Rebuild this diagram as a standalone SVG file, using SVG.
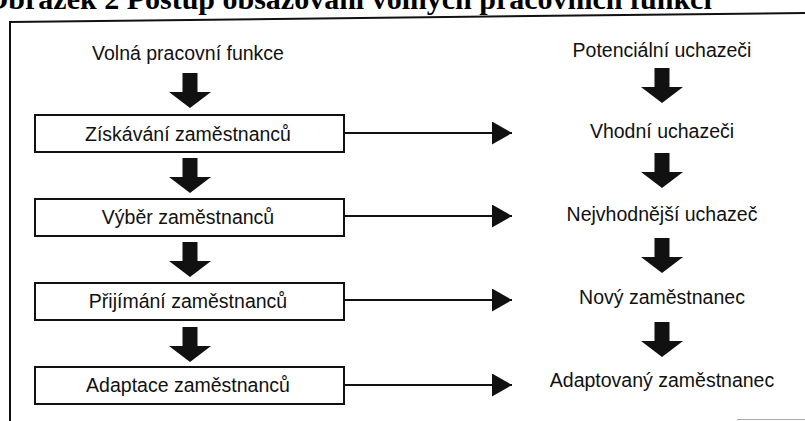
<svg xmlns="http://www.w3.org/2000/svg" width="805" height="421" viewBox="0 0 805 421">
<style>
.title{font-family:"Liberation Serif","Times New Roman",serif;font-weight:bold;font-size:30px;fill:#000}
.t{font-family:"Liberation Sans",Arial,sans-serif;font-size:19.5px;fill:#111;text-anchor:middle}
.box{fill:#fff;stroke:#111;stroke-width:2}
.frame{stroke:#111;stroke-width:2;fill:none}
.conn{stroke:#111;stroke-width:2;fill:none}
.fat{fill:#111}
</style>
<defs>
<marker id="ah" markerWidth="20" markerHeight="23" refX="20" refY="11.5" orient="auto" markerUnits="userSpaceOnUse">
<path d="M0,0 L20,11.5 L0,23 Z" fill="#111"/>
</marker>
<path id="fa" d="M-7.5,0 H7.5 V19 H21 L0,35 L-21,19 H-7.5 Z"/>
</defs>
<rect width="805" height="421" fill="#fff"/>
<text class="title" x="-15" y="9">Obrázek 2 Postup obsazování volných pracovních funkcí</text>
<g id="frame">
<line class="frame" x1="10" y1="22" x2="805" y2="13"/>
<line class="frame" x1="10" y1="21" x2="10" y2="421"/>
<line x1="737" y1="419.5" x2="805" y2="419.5" stroke="#aaa" stroke-width="1"/>
</g>
<g id="start"><text class="t" x="188" y="60">Volná pracovní funkce</text></g>
<g id="box1"><rect class="box" x="35" y="115" width="309" height="37"/><text class="t" x="188" y="141">Získávání zaměstnanců</text></g>
<g id="box2"><rect class="box" x="35" y="199" width="309" height="37"/><text class="t" x="188" y="224">Výběr zaměstnanců</text></g>
<g id="box3"><rect class="box" x="35" y="283" width="309" height="37"/><text class="t" x="188" y="308">Přijímání zaměstnanců</text></g>
<g id="box4"><rect class="box" x="35" y="367" width="309" height="37"/><text class="t" x="188" y="392">Adaptace zaměstnanců</text></g>
<g id="r0"><text class="t" x="662" y="57">Potenciální uchazeči</text></g>
<g id="r1"><text class="t" x="662" y="138">Vhodní uchazeči</text></g>
<g id="r2"><text class="t" x="662" y="221">Nejvhodnější uchazeč</text></g>
<g id="r3"><text class="t" x="662" y="304">Nový zaměstnanec</text></g>
<g id="r4"><text class="t" x="662" y="387">Adaptovaný zaměstnanec</text></g>
<g id="connectors">
<use href="#fa" class="fat" x="190" y="73"/>
<use href="#fa" class="fat" x="190" y="158"/>
<use href="#fa" class="fat" x="190" y="242"/>
<use href="#fa" class="fat" x="190" y="327"/>
<use href="#fa" class="fat" x="662" y="68"/>
<use href="#fa" class="fat" x="662" y="153"/>
<use href="#fa" class="fat" x="662" y="238"/>
<use href="#fa" class="fat" x="662" y="322"/>
<line class="conn" x1="344" y1="133" x2="512" y2="133" marker-end="url(#ah)"/>
<line class="conn" x1="344" y1="216" x2="512" y2="216" marker-end="url(#ah)"/>
<line class="conn" x1="344" y1="300" x2="512" y2="300" marker-end="url(#ah)"/>
<line class="conn" x1="344" y1="385" x2="512" y2="385" marker-end="url(#ah)"/>
</g>
</svg>
